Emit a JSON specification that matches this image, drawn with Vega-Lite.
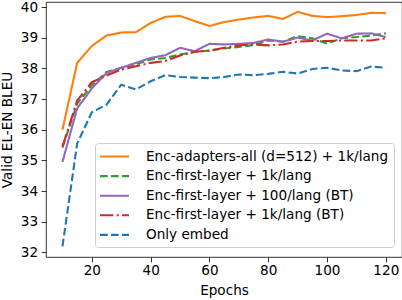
{
  "$schema": "https://vega.github.io/schema/vega-lite/v6.json",
  "width": 356,
  "height": 255,
  "autosize": {"type": "none"},
  "padding": {"left": 46, "top": 2, "right": 0, "bottom": 43},
  "background": "white",
  "config": {
    "font": "DejaVu Sans",
    "view": {"stroke": "#000000", "strokeWidth": 0.8},
    "axis": {
      "domain": false,
      "grid": false,
      "tickColor": "#000000",
      "tickSize": 4.9,
      "tickWidth": 0.8,
      "labelFont": "DejaVu Sans",
      "labelFontSize": 13.6,
      "labelColor": "#000000",
      "titleFont": "DejaVu Sans",
      "titleFontSize": 13.6,
      "titleFontWeight": "normal",
      "titleColor": "#000000"
    },
    "legend": {
      "labelFont": "DejaVu Sans",
      "labelFontSize": 13.6,
      "labelColor": "#000000"
    }
  },
  "datasets": {
    "runs": [
      {"series": "Enc-adapters-all (d=512) + 1k/lang", "epoch": 10, "bleu": 36.0},
      {"series": "Enc-adapters-all (d=512) + 1k/lang", "epoch": 15, "bleu": 38.18},
      {"series": "Enc-adapters-all (d=512) + 1k/lang", "epoch": 20, "bleu": 38.73},
      {"series": "Enc-adapters-all (d=512) + 1k/lang", "epoch": 25, "bleu": 39.07},
      {"series": "Enc-adapters-all (d=512) + 1k/lang", "epoch": 30, "bleu": 39.17},
      {"series": "Enc-adapters-all (d=512) + 1k/lang", "epoch": 35, "bleu": 39.18},
      {"series": "Enc-adapters-all (d=512) + 1k/lang", "epoch": 40, "bleu": 39.48},
      {"series": "Enc-adapters-all (d=512) + 1k/lang", "epoch": 45, "bleu": 39.68},
      {"series": "Enc-adapters-all (d=512) + 1k/lang", "epoch": 50, "bleu": 39.71},
      {"series": "Enc-adapters-all (d=512) + 1k/lang", "epoch": 55, "bleu": 39.54},
      {"series": "Enc-adapters-all (d=512) + 1k/lang", "epoch": 60, "bleu": 39.38},
      {"series": "Enc-adapters-all (d=512) + 1k/lang", "epoch": 65, "bleu": 39.51},
      {"series": "Enc-adapters-all (d=512) + 1k/lang", "epoch": 70, "bleu": 39.59},
      {"series": "Enc-adapters-all (d=512) + 1k/lang", "epoch": 75, "bleu": 39.66},
      {"series": "Enc-adapters-all (d=512) + 1k/lang", "epoch": 80, "bleu": 39.71},
      {"series": "Enc-adapters-all (d=512) + 1k/lang", "epoch": 85, "bleu": 39.61},
      {"series": "Enc-adapters-all (d=512) + 1k/lang", "epoch": 90, "bleu": 39.84},
      {"series": "Enc-adapters-all (d=512) + 1k/lang", "epoch": 95, "bleu": 39.71},
      {"series": "Enc-adapters-all (d=512) + 1k/lang", "epoch": 100, "bleu": 39.67},
      {"series": "Enc-adapters-all (d=512) + 1k/lang", "epoch": 105, "bleu": 39.70},
      {"series": "Enc-adapters-all (d=512) + 1k/lang", "epoch": 110, "bleu": 39.74},
      {"series": "Enc-adapters-all (d=512) + 1k/lang", "epoch": 115, "bleu": 39.81},
      {"series": "Enc-adapters-all (d=512) + 1k/lang", "epoch": 120, "bleu": 39.80},
      {"series": "Enc-first-layer + 1k/lang", "epoch": 10, "bleu": 35.42},
      {"series": "Enc-first-layer + 1k/lang", "epoch": 15, "bleu": 36.85},
      {"series": "Enc-first-layer + 1k/lang", "epoch": 20, "bleu": 37.45},
      {"series": "Enc-first-layer + 1k/lang", "epoch": 25, "bleu": 37.88},
      {"series": "Enc-first-layer + 1k/lang", "epoch": 30, "bleu": 38.02},
      {"series": "Enc-first-layer + 1k/lang", "epoch": 35, "bleu": 38.13},
      {"series": "Enc-first-layer + 1k/lang", "epoch": 40, "bleu": 38.29},
      {"series": "Enc-first-layer + 1k/lang", "epoch": 45, "bleu": 38.34},
      {"series": "Enc-first-layer + 1k/lang", "epoch": 50, "bleu": 38.45},
      {"series": "Enc-first-layer + 1k/lang", "epoch": 55, "bleu": 38.54},
      {"series": "Enc-first-layer + 1k/lang", "epoch": 60, "bleu": 38.58},
      {"series": "Enc-first-layer + 1k/lang", "epoch": 65, "bleu": 38.65},
      {"series": "Enc-first-layer + 1k/lang", "epoch": 70, "bleu": 38.70},
      {"series": "Enc-first-layer + 1k/lang", "epoch": 75, "bleu": 38.76},
      {"series": "Enc-first-layer + 1k/lang", "epoch": 80, "bleu": 38.91},
      {"series": "Enc-first-layer + 1k/lang", "epoch": 85, "bleu": 38.87},
      {"series": "Enc-first-layer + 1k/lang", "epoch": 90, "bleu": 39.05},
      {"series": "Enc-first-layer + 1k/lang", "epoch": 95, "bleu": 38.98},
      {"series": "Enc-first-layer + 1k/lang", "epoch": 100, "bleu": 38.81},
      {"series": "Enc-first-layer + 1k/lang", "epoch": 105, "bleu": 38.98},
      {"series": "Enc-first-layer + 1k/lang", "epoch": 110, "bleu": 39.02},
      {"series": "Enc-first-layer + 1k/lang", "epoch": 115, "bleu": 39.07},
      {"series": "Enc-first-layer + 1k/lang", "epoch": 120, "bleu": 39.14},
      {"series": "Enc-first-layer + 100/lang (BT)", "epoch": 10, "bleu": 34.95},
      {"series": "Enc-first-layer + 100/lang (BT)", "epoch": 15, "bleu": 36.70},
      {"series": "Enc-first-layer + 100/lang (BT)", "epoch": 20, "bleu": 37.35},
      {"series": "Enc-first-layer + 100/lang (BT)", "epoch": 25, "bleu": 37.85},
      {"series": "Enc-first-layer + 100/lang (BT)", "epoch": 30, "bleu": 38.02},
      {"series": "Enc-first-layer + 100/lang (BT)", "epoch": 35, "bleu": 38.18},
      {"series": "Enc-first-layer + 100/lang (BT)", "epoch": 40, "bleu": 38.34},
      {"series": "Enc-first-layer + 100/lang (BT)", "epoch": 45, "bleu": 38.43},
      {"series": "Enc-first-layer + 100/lang (BT)", "epoch": 50, "bleu": 38.67},
      {"series": "Enc-first-layer + 100/lang (BT)", "epoch": 55, "bleu": 38.56},
      {"series": "Enc-first-layer + 100/lang (BT)", "epoch": 60, "bleu": 38.80},
      {"series": "Enc-first-layer + 100/lang (BT)", "epoch": 65, "bleu": 38.78},
      {"series": "Enc-first-layer + 100/lang (BT)", "epoch": 70, "bleu": 38.80},
      {"series": "Enc-first-layer + 100/lang (BT)", "epoch": 75, "bleu": 38.83},
      {"series": "Enc-first-layer + 100/lang (BT)", "epoch": 80, "bleu": 38.94},
      {"series": "Enc-first-layer + 100/lang (BT)", "epoch": 85, "bleu": 38.87},
      {"series": "Enc-first-layer + 100/lang (BT)", "epoch": 90, "bleu": 39.00},
      {"series": "Enc-first-layer + 100/lang (BT)", "epoch": 95, "bleu": 38.91},
      {"series": "Enc-first-layer + 100/lang (BT)", "epoch": 100, "bleu": 39.13},
      {"series": "Enc-first-layer + 100/lang (BT)", "epoch": 105, "bleu": 38.98},
      {"series": "Enc-first-layer + 100/lang (BT)", "epoch": 110, "bleu": 39.13},
      {"series": "Enc-first-layer + 100/lang (BT)", "epoch": 115, "bleu": 39.14},
      {"series": "Enc-first-layer + 100/lang (BT)", "epoch": 120, "bleu": 39.02},
      {"series": "Enc-first-layer + 1k/lang (BT)", "epoch": 10, "bleu": 35.45},
      {"series": "Enc-first-layer + 1k/lang (BT)", "epoch": 15, "bleu": 36.95},
      {"series": "Enc-first-layer + 1k/lang (BT)", "epoch": 20, "bleu": 37.55},
      {"series": "Enc-first-layer + 1k/lang (BT)", "epoch": 25, "bleu": 37.77},
      {"series": "Enc-first-layer + 1k/lang (BT)", "epoch": 30, "bleu": 37.96},
      {"series": "Enc-first-layer + 1k/lang (BT)", "epoch": 35, "bleu": 38.07},
      {"series": "Enc-first-layer + 1k/lang (BT)", "epoch": 40, "bleu": 38.18},
      {"series": "Enc-first-layer + 1k/lang (BT)", "epoch": 45, "bleu": 38.24},
      {"series": "Enc-first-layer + 1k/lang (BT)", "epoch": 50, "bleu": 38.42},
      {"series": "Enc-first-layer + 1k/lang (BT)", "epoch": 55, "bleu": 38.54},
      {"series": "Enc-first-layer + 1k/lang (BT)", "epoch": 60, "bleu": 38.58},
      {"series": "Enc-first-layer + 1k/lang (BT)", "epoch": 65, "bleu": 38.67},
      {"series": "Enc-first-layer + 1k/lang (BT)", "epoch": 70, "bleu": 38.75},
      {"series": "Enc-first-layer + 1k/lang (BT)", "epoch": 75, "bleu": 38.78},
      {"series": "Enc-first-layer + 1k/lang (BT)", "epoch": 80, "bleu": 38.75},
      {"series": "Enc-first-layer + 1k/lang (BT)", "epoch": 85, "bleu": 38.78},
      {"series": "Enc-first-layer + 1k/lang (BT)", "epoch": 90, "bleu": 38.87},
      {"series": "Enc-first-layer + 1k/lang (BT)", "epoch": 95, "bleu": 38.89},
      {"series": "Enc-first-layer + 1k/lang (BT)", "epoch": 100, "bleu": 38.89},
      {"series": "Enc-first-layer + 1k/lang (BT)", "epoch": 105, "bleu": 38.91},
      {"series": "Enc-first-layer + 1k/lang (BT)", "epoch": 110, "bleu": 38.91},
      {"series": "Enc-first-layer + 1k/lang (BT)", "epoch": 115, "bleu": 38.91},
      {"series": "Enc-first-layer + 1k/lang (BT)", "epoch": 120, "bleu": 38.98},
      {"series": "Only embed", "epoch": 10, "bleu": 32.2},
      {"series": "Only embed", "epoch": 15, "bleu": 35.55},
      {"series": "Only embed", "epoch": 20, "bleu": 36.57},
      {"series": "Only embed", "epoch": 25, "bleu": 36.82},
      {"series": "Only embed", "epoch": 30, "bleu": 37.47},
      {"series": "Only embed", "epoch": 35, "bleu": 37.31},
      {"series": "Only embed", "epoch": 40, "bleu": 37.58},
      {"series": "Only embed", "epoch": 45, "bleu": 37.78},
      {"series": "Only embed", "epoch": 50, "bleu": 37.72},
      {"series": "Only embed", "epoch": 55, "bleu": 37.70},
      {"series": "Only embed", "epoch": 60, "bleu": 37.68},
      {"series": "Only embed", "epoch": 65, "bleu": 37.72},
      {"series": "Only embed", "epoch": 70, "bleu": 37.80},
      {"series": "Only embed", "epoch": 75, "bleu": 37.78},
      {"series": "Only embed", "epoch": 80, "bleu": 37.82},
      {"series": "Only embed", "epoch": 85, "bleu": 37.89},
      {"series": "Only embed", "epoch": 90, "bleu": 37.83},
      {"series": "Only embed", "epoch": 95, "bleu": 37.98},
      {"series": "Only embed", "epoch": 100, "bleu": 38.02},
      {"series": "Only embed", "epoch": 105, "bleu": 37.93},
      {"series": "Only embed", "epoch": 110, "bleu": 37.91},
      {"series": "Only embed", "epoch": 115, "bleu": 38.06},
      {"series": "Only embed", "epoch": 120, "bleu": 38.02}
    ]
  },
  "data": {"name": "runs"},
  "encoding": {
    "x": {
      "field": "epoch",
      "type": "quantitative",
      "scale": {"domain": [4.4, 125.5], "nice": false, "zero": false},
      "axis": {"title": "Epochs", "values": [20, 40, 60, 80, 100, 120], "labelPadding": 2, "titlePadding": 6, "labelFlush": false}
    },
    "y": {
      "field": "bleu",
      "type": "quantitative",
      "scale": {"domain": [31.853, 40.163], "nice": false, "zero": false},
      "axis": {"title": "Valid EL-EN BLEU", "values": [32, 33, 34, 35, 36, 37, 38, 39, 40], "labelPadding": 3.5, "titlePadding": 6, "labelFlush": false}
    },
    "color": {
      "field": "series",
      "type": "nominal",
      "scale": {
        "domain": ["Enc-adapters-all (d=512) + 1k/lang", "Enc-first-layer + 1k/lang", "Enc-first-layer + 100/lang (BT)", "Enc-first-layer + 1k/lang (BT)", "Only embed"],
        "range": ["#ff7f0e", "#2ca02c", "#9467bd", "#d62728", "#1f77b4"]
      },
      "legend": {
        "title": null,
        "orient": "none",
        "legendX": 49,
        "legendY": 141,
        "symbolType": "M-2,0L2,0",
        "symbolSize": 210,
        "symbolStrokeWidth": 2.1,
        "symbolOffset": 6,
        "labelOffset": 23,
        "rowPadding": 3.6,
        "padding": 5,
        "fillColor": "rgba(255,255,255,0.8)",
        "strokeColor": "#cccccc",
        "cornerRadius": 3,
        "labelLimit": 400
      }
    },
    "strokeDash": {
      "field": "series",
      "type": "nominal",
      "scale": {
        "domain": ["Enc-adapters-all (d=512) + 1k/lang", "Enc-first-layer + 1k/lang", "Enc-first-layer + 100/lang (BT)", "Enc-first-layer + 1k/lang (BT)", "Only embed"],
        "range": [[1, 0], [7.7, 3.3], [1, 0], [13.3, 3.3, 2.1, 3.3], [7.7, 3.3]]
      },
      "legend": null
    }
  },
  "layer": [
    {"transform": [{"filter": "datum.series === 'Enc-adapters-all (d=512) + 1k/lang'"}], "mark": {"type": "line", "strokeWidth": 2.1}},
    {"transform": [{"filter": "datum.series === 'Enc-first-layer + 1k/lang'"}], "mark": {"type": "line", "strokeWidth": 2.1}},
    {"transform": [{"filter": "datum.series === 'Enc-first-layer + 100/lang (BT)'"}], "mark": {"type": "line", "strokeWidth": 2.1}},
    {"transform": [{"filter": "datum.series === 'Enc-first-layer + 1k/lang (BT)'"}], "mark": {"type": "line", "strokeWidth": 2.1}},
    {"transform": [{"filter": "datum.series === 'Only embed'"}], "mark": {"type": "line", "strokeWidth": 2.1}}
  ]
}
